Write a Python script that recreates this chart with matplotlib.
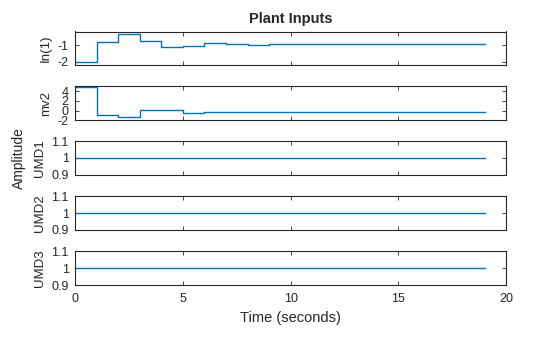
import numpy as np
import matplotlib
matplotlib.use("Agg")
import matplotlib.pyplot as plt

plt.rcParams["font.family"] = ["Liberation Sans", "DejaVu Sans"]

# time grid (1 s sample steps, last hold to 19 s)
t = np.arange(0, 20)

in1 = [-2.03, -0.83, -0.37, -0.77, -1.11, -1.08, -0.89, -0.94, -1.0, -0.95,
       -0.95, -0.95, -0.95, -0.95, -0.95, -0.95, -0.95, -0.95, -0.95, -0.95]
mv2 = [4.8, -1.0, -1.4, 0.2, 0.2, -0.4, -0.2, -0.2, -0.2, -0.2,
       -0.2, -0.2, -0.2, -0.2, -0.2, -0.2, -0.2, -0.2, -0.2, -0.2]
umd1 = [1.0] * 20
umd2 = [1.0] * 20
umd3 = [1.0] * 20

channels = ["In(1)", "mv2", "UMD1", "UMD2", "UMD3"]
series = [in1, mv2, umd1, umd2, umd3]
ylims = [(-2.18, -0.2), (-2, 5), (0.9, 1.1), (0.9, 1.1), (0.9, 1.1)]
yticks = [[-2, -1], [-2, 0, 2, 4], [0.9, 1, 1.1], [0.9, 1, 1.1], [0.9, 1, 1.1]]
yticklabels = [["-2", "-1"], ["-2", "0", "2", "4"],
               ["0.9", "1", "1.1"], ["0.9", "1", "1.1"], ["0.9", "1", "1.1"]]

W, H = 560, 337
fig = plt.figure(figsize=(W / 100, H / 100), dpi=100)

left, right = 75, 506.3
tops = [31.5, 86.3, 141.0, 196.3, 251.3]
bots = [65.0, 120.3, 174.7, 229.7, 285.0]

axes = []
for i in range(5):
    ax = fig.add_axes([left / W, 1 - bots[i] / H, (right - left) / W,
                       (bots[i] - tops[i]) / H])
    ax.plot(t, series[i], drawstyle="steps-post", color="#0072BD", lw=1.0)
    ax.set_xlim(0, 20)
    ax.set_ylim(*ylims[i])
    ax.set_yticks(yticks[i])
    ax.set_yticklabels(yticklabels[i])
    ax.set_xticks([0, 5, 10, 15, 20])
    ax.tick_params(direction="in", length=3, width=0.6, top=True, right=True,
                   labelsize=9, colors="#262626")
    ax.tick_params(axis="y", pad=4.5)
    ax.tick_params(axis="x", pad=6)
    ax.set_ylabel(channels[i], fontsize=9.5, color="#262626", labelpad=4)
    for s in ax.spines.values():
        s.set_linewidth(0.8)
        s.set_color("#262626")
    if i < 4:
        ax.tick_params(labelbottom=False)
    axes.append(ax)

axes[0].set_title("Plant Inputs", fontsize=10.5, fontweight="bold",
                  color="#262626", pad=6)
axes[-1].set_xlabel("Time (seconds)", fontsize=10.5, color="#262626", labelpad=4)
fig.text(0.034, 0.53, "Amplitude", rotation=90, ha="center", va="center",
         fontsize=10, color="#262626")

fig.savefig("out.png", dpi=100, facecolor="white")
